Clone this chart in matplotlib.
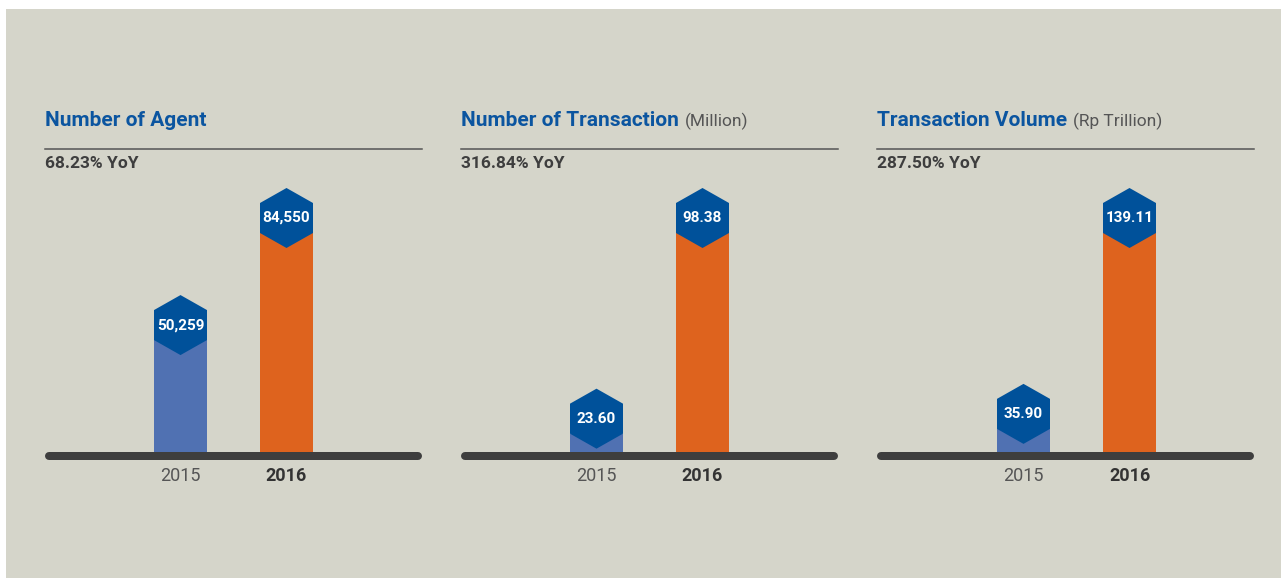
import matplotlib
matplotlib.use("Agg")
import matplotlib.pyplot as plt
import matplotlib.patches as patches

# data
years = ["2015", "2016"]
titles = ["Number of Agent", "Number of Transaction", "Transaction Volume"]
units = ["", "(Million)", "(Rp Trillion)"]
growth = ["68.23% YoY", "316.84% YoY", "287.50% YoY"]
values_2015 = [50259, 23.60, 35.90]
values_2016 = [84550, 98.38, 139.11]
value_labels = [["50,259", "84,550"], ["23.60", "98.38"], ["35.90", "139.11"]]

BG = "#d5d5ca"
HEX_BLUE = "#00519a"
BAR_COLORS = ["#5071b2", "#de631e"]
DARK = "#3e3e3e"
GREY = "#555555"
TITLE_BLUE = "#0b55a0"

plt.rcParams["font.family"] = ["Roboto", "DejaVu Sans"]

W, H = 1281, 578
fig = plt.figure(figsize=(W / 100, H / 100), dpi=100)
fig.patch.set_facecolor("white")
fig.patches.append(patches.Rectangle((6 / W, 0), 1 - 6 / W, (H - 9) / H,
                                     transform=fig.transFigure, facecolor=BG,
                                     edgecolor="none", zorder=-10))

# pixel geometry of one panel
panel_left = [45, 461, 877]
first_bar_px = [135.5, 135.5, 146.5]   # first bar centre from panel's left edge
panel_w = 377
bar_gap_px = 106
base_px = 452     # top of the baseline
top_px = 188      # where the largest value sits
plot_h = base_px - top_px
hex_h_px = 60
hex_shoulder_px = 15
bar_w = 0.5


def hexagon(ax, xc, top, vmax, label):
    """Label cap: pointed hexagon whose top vertex sits at the value."""
    u = vmax / plot_h  # data units per pixel
    hh = hex_h_px * u
    sh = hex_shoulder_px * u
    hw = bar_w / 2
    pts = [(xc, top), (xc + hw, top - sh), (xc + hw, top - hh + sh),
           (xc, top - hh), (xc - hw, top - hh + sh), (xc - hw, top - sh)]
    ax.add_patch(patches.Polygon(pts, closed=True, facecolor=HEX_BLUE,
                                 edgecolor="none", zorder=3, clip_on=False))
    ax.text(xc, top - hh / 2, label, color="white", fontsize=11,
            fontweight="bold", ha="center", va="center", zorder=4)


for i in range(3):
    x0 = panel_left[i]
    ax = fig.add_axes([x0 / W, (H - base_px) / H, panel_w / W, plot_h / H])
    ax.set_facecolor("none")
    for s in ax.spines.values():
        s.set_visible(False)
    ax.set_xticks([])
    ax.set_yticks([])

    vmax = values_2016[i]
    ax.set_ylim(0, vmax)
    left = first_bar_px[i] / bar_gap_px
    ax.set_xlim(-left, panel_w / bar_gap_px - left)

    vals = [values_2015[i], values_2016[i]]
    for j, v in enumerate(vals):
        bar_top = v - (hex_h_px - hex_shoulder_px) * vmax / plot_h
        ax.bar(j, max(bar_top, 0.0), width=bar_w, color=BAR_COLORS[j],
               zorder=2, linewidth=0)
        hexagon(ax, j, v, vmax, value_labels[i][j])

    # baseline
    ax.plot([4 / panel_w, 1 - 4 / panel_w], [-4 / plot_h] * 2,
            transform=ax.transAxes, color=DARK, lw=8 * 0.72,
            solid_capstyle="round", clip_on=False, zorder=1)
    # thin rule under the title
    ax.plot([0, 1], [(base_px - 149) / plot_h] * 2, transform=ax.transAxes,
            color=GREY, lw=1.1, clip_on=False)

    # year labels
    for j, yr in enumerate(years):
        ax.text(j, -(476 - base_px) / plot_h * vmax, yr, ha="center",
                va="center", fontsize=13,
                fontweight="bold" if j == 1 else "normal",
                color="#333333" if j == 1 else GREY)

    # title and unit
    t = ax.text(0, (base_px - 121) / plot_h, titles[i],
                transform=ax.transAxes, color=TITLE_BLUE, fontsize=15,
                fontweight="bold", ha="left", va="center")
    if units[i]:
        fig.canvas.draw()
        bb = t.get_window_extent()
        ax.annotate(units[i], xy=(bb.x1, bb.y0 + bb.height / 2),
                    xycoords="figure pixels", xytext=(4, 0),
                    textcoords="offset points", color=GREY, fontsize=12.5,
                    ha="left", va="center")

    ax.text(0, (base_px - 164) / plot_h, growth[i], transform=ax.transAxes,
            color=DARK, fontsize=12.5, fontweight="bold", ha="left",
            va="center")

fig.savefig("out.png", dpi=100, facecolor=fig.get_facecolor())
